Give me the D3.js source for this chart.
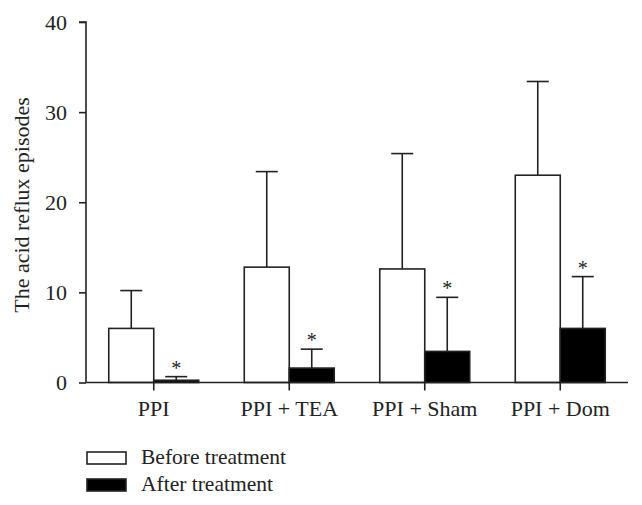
<!DOCTYPE html>
<html>
<head>
<meta charset="utf-8">
<script src="https://cdn.jsdelivr.net/npm/d3@7"></script>
<style>
  html, body { margin: 0; padding: 0; background: #fff; }
  svg { display: block; }
  text { font-family: "Liberation Serif", "Times New Roman", serif; fill: #222; }
</style>
</head>
<body>
<svg id="chart" width="642" height="505"></svg>
<script>
const categories = ["PPI", "PPI + TEA", "PPI + Sham", "PPI + Dom"];
const seriesNames = ["Before treatment", "After treatment"];
const beforeMean = [6.0, 12.8, 12.6, 23.0];
const beforeSD   = [4.2, 10.6, 12.8, 10.4];
const afterMean  = [0.25, 1.6, 3.45, 6.0];
const afterSD    = [0.4, 2.1, 6.0, 5.75];
const significant = [true, true, true, true];
const yTicks = [0, 10, 20, 30, 40];
const yTitle = "The acid reflux episodes";

const svg = d3.select("#chart");
const stroke = "#222";
const mLeft = 86, mRight = 628, mTop = 22, mBottom = 382.5;

const x0 = d3.scaleBand().domain(categories).range([mLeft, mRight])
  .paddingInner(0.336).paddingOuter(0.168);
const x1 = d3.scaleBand().domain(["before", "after"]).range([0, x0.bandwidth()]).padding(0);
const y = d3.scaleLinear().domain([0, 40]).range([mBottom, mTop]);

const rows = categories.map((c, i) => ({
  cat: c,
  vals: [
    { key: "before", mean: beforeMean[i], sd: beforeSD[i], fill: "#fff", star: false },
    { key: "after", mean: afterMean[i], sd: afterSD[i], fill: "#000", star: significant[i] }
  ]
}));

const g = svg.append("g");
const groups = g.selectAll("g.grp").data(rows).join("g")
  .attr("class", "grp")
  .attr("transform", d => `translate(${x0(d.cat)},0)`);

const capHalf = 11;
groups.each(function(d) {
  const sel = d3.select(this);
  d.vals.forEach(v => {
    const bx = x1(v.key), bw = x1.bandwidth(), cx = bx + bw / 2;
    sel.append("line").attr("x1", cx).attr("x2", cx)
      .attr("y1", y(v.mean)).attr("y2", y(v.mean + v.sd))
      .attr("stroke", stroke).attr("stroke-width", 1.6);
    sel.append("line").attr("x1", cx - capHalf).attr("x2", cx + capHalf)
      .attr("y1", y(v.mean + v.sd)).attr("y2", y(v.mean + v.sd))
      .attr("stroke", stroke).attr("stroke-width", 1.6);
    sel.append("rect").attr("x", bx).attr("width", bw)
      .attr("y", y(v.mean)).attr("height", y(0) - y(v.mean))
      .attr("fill", v.fill).attr("stroke", stroke).attr("stroke-width", 1.6);
    if (v.star) {
      sel.append("text").attr("x", cx).attr("y", y(v.mean + v.sd) - 2)
        .attr("text-anchor", "middle").attr("font-size", 20).text("*");
    }
  });
});

// Y axis
const yAxis = d3.axisLeft(y).tickValues(yTicks).tickSize(7).tickPadding(12);
const ya = svg.append("g").attr("transform", `translate(${mLeft},0)`).call(yAxis);
ya.select(".domain").attr("stroke", stroke).attr("stroke-width", 1.6).attr("d", `M-7,${mTop}H0V${mBottom}`);
ya.selectAll(".tick line").attr("stroke", stroke).attr("stroke-width", 1.6);
ya.selectAll(".tick text").attr("font-size", 22).attr("fill", "#222")
  .attr("font-family", '"Liberation Serif", serif');

// X axis
const xAxis = d3.axisBottom(x0).tickSize(8).tickPadding(10).tickValues(categories);
const xa = svg.append("g").attr("transform", `translate(0,${mBottom})`).call(xAxis);
xa.select(".domain").attr("stroke", stroke).attr("stroke-width", 1.6).attr("d", `M${mLeft},0H${mRight}`);
xa.selectAll(".tick line").attr("stroke", stroke).attr("stroke-width", 1.6);
xa.selectAll(".tick text").attr("font-size", 22).attr("fill", "#222")
  .attr("font-family", '"Liberation Serif", serif');

// Y title
svg.append("text")
  .attr("transform", `translate(29,205) rotate(-90)`)
  .attr("text-anchor", "middle").attr("font-size", 22).text(yTitle);

// Legend
const legend = svg.append("g");
const fills = ["#fff", "#000"];
seriesNames.forEach((name, i) => {
  const ly = 452 + i * 27;
  legend.append("rect").attr("x", 87).attr("y", ly).attr("width", 39).attr("height", 12)
    .attr("fill", fills[i]).attr("stroke", stroke).attr("stroke-width", 1.6);
  legend.append("text").attr("x", 141).attr("y", ly + 12).attr("font-size", 21.5).text(name);
});
</script>
</body>
</html>
